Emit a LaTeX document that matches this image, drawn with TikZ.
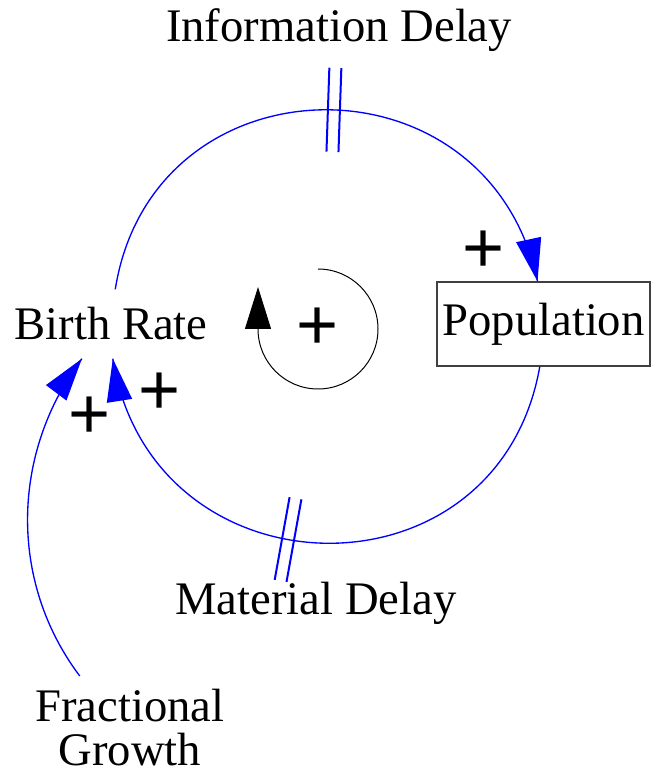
\documentclass[tikz,border=0pt]{standalone}
\usepackage{fontspec}
\setmainfont{Liberation Serif}
\newfontfamily\signfont{Liberation Sans}
\usetikzlibrary{arrows.meta,decorations.markings}

\tikzset{
    var/.style={font=\fontsize{35}{33}\selectfont, inner xsep=3pt, inner ysep=13.5pt},
    stock/.style={var, draw=black!75, line width=1.1pt, inner xsep=2pt,
        minimum width=160pt, minimum height=63pt},
    link/.style={blue, line width=1pt, postaction={decorate, decoration={markings,
        mark=at position 0.9999 with {\arrow{Triangle[length=32pt,width=19pt]}}}}},
    polarity/.style={font=\signfont\fontsize{54}{54}\selectfont, inner sep=0pt},
    delaymarks/.style={postaction={decorate, decoration={markings,
        mark=at position #1 with {\draw[-, blue, line width=1.5pt]
            (-6,-42) -- (-6,42) (6,-42) -- (6,42);}}}}
}

\begin{document}
\begin{tikzpicture}[x=0.75pt, y=0.75pt]
\useasboundingbox (0,0) rectangle (651,775);

% Variables
\node[var, anchor=base] (birth) at (111,435) {Birth Rate};
\node[stock] (pop) at (543.5,451) {Population};
\node[var, anchor=north, align=center, inner ysep=10pt] (frac) at (130,99) {Fractional\\Growth};

% --- Delay labels ---
\node[var, anchor=base] (infodelay) at (339,733) {Information Delay};
\node[var, anchor=base] (matdelay) at (316,160) {Material Delay};

% --- Causal links ---
\draw[link, delaymarks=233pt] (birth.83) to[out=81, in=102, looseness=1.44] (pop.98);
\draw[link, delaymarks=256pt] (pop.-95) to[out=-100, in=-81, looseness=1.46] (birth.-87);
\draw[link] (frac.134) to[out=127, in=233, looseness=0.95] (birth.-130);

% Link polarities
\node[polarity] (popsign) at (484,523) {+};
\node[polarity] (birthsign) at (160,381) {+};
\node[polarity] (fracsign) at (90,357) {+};

% --- Loop symbol ---
\node[polarity] (loopsign) at (318,446) {+};
\draw[line width=0.75pt, -{Triangle[length=31.5pt,width=19.5pt]}]
    (loopsign.center) ++(0,60) arc[start angle=90, end angle=-180, radius=45pt] -- ++(0,42);

\end{tikzpicture}
\end{document}
